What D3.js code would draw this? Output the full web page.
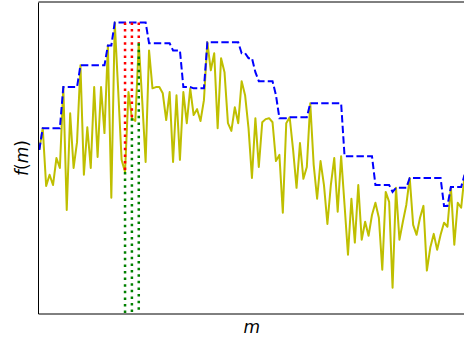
<!DOCTYPE html>
<html><head><meta charset="utf-8">
<script src="https://cdn.jsdelivr.net/npm/d3@7"></script>
<style>body{margin:0;background:#fff}svg{display:block}</style>
</head><body>
<script>
// f(m) observed values, m = 0..124
const fValues = [52.6,59.6,41.0,44.6,41.3,50.0,46.8,72.8,33.3,64.4,
46.8,55.1,79.8,44.6,59.9,46.8,72.8,50.3,72.8,58.0,
86.2,37.2,93.6,71.8,49.4,45.5,71.2,62.8,61.9,86.9,
68.6,48.7,84.6,72.4,72.8,72.8,70.8,62.2,71.2,48.7,
70.2,49.4,71.2,61.2,72.4,63.8,65.7,61.9,68.6,87.2,
78.2,83.7,59.6,82.1,77.6,61.2,58.7,66.3,61.2,74.7,
70.2,59.6,43.6,62.8,47.1,61.5,62.5,62.8,61.5,49.0,
51.0,32.4,61.2,63.1,52.6,40.4,54.8,43.3,47.1,67.6,
47.8,36.9,49.0,41.3,28.8,41.3,50.0,32.7,50.6,34.9,
18.9,36.9,22.8,41.3,23.7,29.5,25.0,31.7,35.6,30.8,
14.1,39.1,35.9,8.3,40.4,23.7,29.5,34.9,43.6,28.5,
25.3,30.8,34.6,13.8,21.2,25.6,20.5,25.3,29.2,27.9,
40.7,22.1,35.6,34.0,44.6];
// windowed maximum (blue dashed)
const maxValues = [52.6,59.6,59.6,59.6,59.6,59.6,59.6,72.8,72.8,72.8,
72.8,72.8,79.8,79.8,79.8,79.8,79.8,79.8,79.8,79.8,
86.2,86.2,93.6,93.6,93.6,93.6,93.6,93.6,93.6,93.6,
93.6,93.6,86.9,86.9,86.9,86.9,86.9,86.9,86.9,84.6,
84.6,84.6,72.8,72.8,72.8,72.4,72.4,72.4,72.4,87.2,
87.2,87.2,87.2,87.2,87.2,87.2,87.2,87.2,87.2,83.7,
83.7,82.1,82.1,77.6,74.7,74.7,74.7,74.7,74.7,70.2,
62.8,62.8,62.8,63.1,63.1,63.1,63.1,63.1,63.1,67.6,
67.6,67.6,67.6,67.6,67.6,67.6,67.6,67.6,67.6,50.6,
50.6,50.6,50.6,50.6,50.6,50.6,50.6,50.6,41.3,41.3,
41.3,41.3,41.3,39.1,40.4,40.4,40.4,40.4,43.6,43.6,
43.6,43.6,43.6,43.6,43.6,43.6,43.6,43.6,34.6,34.6,
40.7,40.7,40.7,40.7,44.6];
// marked positions (dotted verticals)
const markedM = [25, 27, 29];
const yLim = [0, 100];

const W = 464, H = 339;
const L = 39, R = 464.6, T = 2.5, B = 313.5;
const svg = d3.select("body").append("svg").attr("width", W).attr("height", H);
const x = d3.scaleLinear().domain([0, fValues.length - 1]).range([L + 0.3, R]);
const y = d3.scaleLinear().domain(yLim).range([B, T]);

const g = svg.append("g");
const line = d3.line().x((d, i) => x(i)).y(d => y(d));

g.append("path").datum(fValues).attr("d", line)
  .attr("fill", "none").attr("stroke", "#bfbf00").attr("stroke-width", 2)
  .attr("stroke-linejoin", "round");

g.append("path").datum(maxValues).attr("d", line)
  .attr("fill", "none").attr("stroke", "#0000ff").attr("stroke-width", 2)
  .attr("stroke-dasharray", "7.4,3.2");

g.selectAll("line.red").data(markedM).join("line").attr("class", "red")
  .attr("x1", d => x(d)).attr("x2", d => x(d))
  .attr("y1", d => y(maxValues[d])).attr("y2", d => y(fValues[d]))
  .attr("stroke", "#ff0000").attr("stroke-width", 2.5).attr("stroke-dasharray", "2.5,4.1");

g.selectAll("line.green").data(markedM).join("line").attr("class", "green")
  .attr("x1", d => x(d)).attr("x2", d => x(d))
  .attr("y1", d => y(fValues[d])).attr("y2", y(yLim[0]))
  .attr("stroke", "#008000").attr("stroke-width", 2.5).attr("stroke-dasharray", "2.5,4.1");

// spines (no ticks)
const sp = svg.append("g").attr("stroke", "#000").attr("stroke-width", 1).attr("fill", "none");
sp.append("line").attr("x1", L - 0.5).attr("x2", L - 0.5).attr("y1", T).attr("y2", B + 0.5);
sp.append("line").attr("x1", L - 0.5).attr("x2", W).attr("y1", T - 0.5).attr("y2", T - 0.5);
sp.append("line").attr("x1", L - 0.5).attr("x2", W).attr("y1", B + 0.5).attr("y2", B + 0.5);

const font = "DejaVu Sans";
const xl = svg.append("text").attr("x", (L + R) / 2).attr("y", 333).attr("text-anchor", "middle")
  .attr("font-family", font).attr("font-size", 17);
xl.append("tspan").attr("font-style", "italic").text("m");

const yl = svg.append("text").attr("transform", `translate(28,${(T + B) / 2}) rotate(-90)`)
  .attr("text-anchor", "middle").attr("font-family", font).attr("font-size", 17);
yl.append("tspan").attr("font-style", "italic").text("f");
yl.append("tspan").text("(");
yl.append("tspan").attr("font-style", "italic").text("m");
yl.append("tspan").text(")");
</script>
</body></html>
